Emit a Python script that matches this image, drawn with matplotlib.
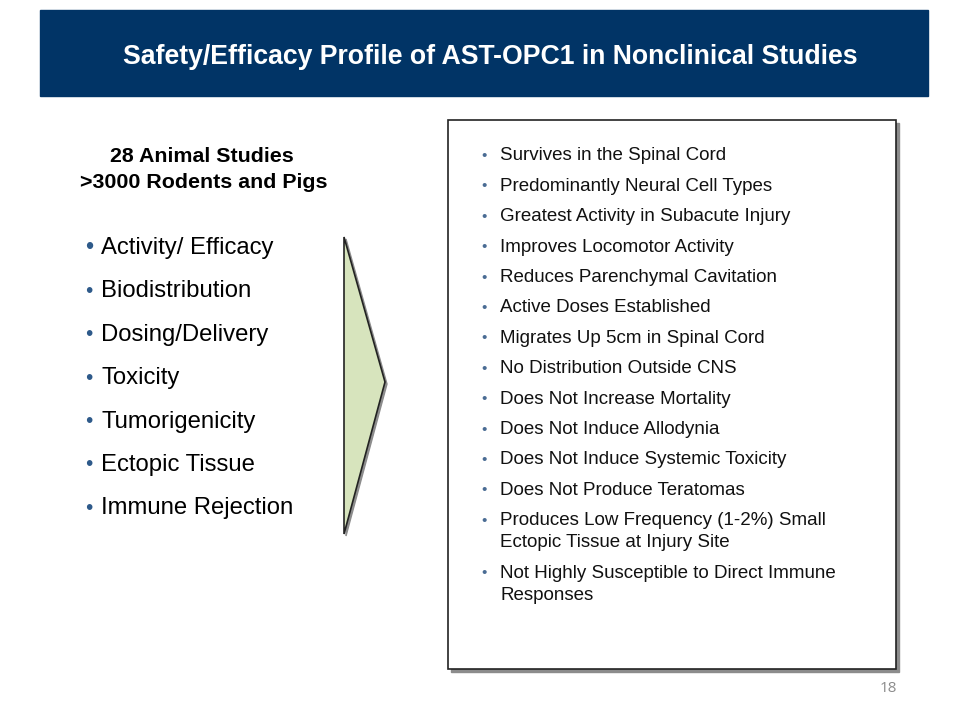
import matplotlib
matplotlib.use("Agg")
import matplotlib.pyplot as plt
from matplotlib import font_manager
from matplotlib.patches import Rectangle, Polygon

# pick the regular Liberation Sans files (not the Narrow variant)
def _font(name):
    for f in font_manager.findSystemFonts():
        if f.endswith(name):
            return font_manager.FontProperties(fname=f)
    return font_manager.FontProperties(family="DejaVu Sans")

REG = _font("LiberationSans-Regular.ttf")
BOLD = _font("LiberationSans-Bold.ttf")

# ---------------------------------------------------------------------------
TITLE = "Safety/Efficacy Profile of AST-OPC1 in Nonclinical Studies"
LEFT_HEAD = ["28 Animal Studies", ">3000 Rodents and Pigs"]
LEFT_ITEMS = ["Activity/ Efficacy", "Biodistribution", "Dosing/Delivery",
              "Toxicity", "Tumorigenicity", "Ectopic Tissue", "Immune Rejection"]
RIGHT_ITEMS = [
    "Survives in the Spinal Cord",
    "Predominantly Neural Cell Types",
    "Greatest Activity in Subacute Injury",
    "Improves Locomotor Activity",
    "Reduces Parenchymal Cavitation",
    "Active Doses Established",
    "Migrates Up 5cm in Spinal Cord",
    "No Distribution Outside CNS",
    "Does Not Increase Mortality",
    "Does Not Induce Allodynia",
    "Does Not Induce Systemic Toxicity",
    "Does Not Produce Teratomas",
    "Produces Low Frequency (1-2%) Small\nEctopic Tissue at Injury Site",
    "Not Highly Susceptible to Direct Immune\nResponses",
]
PAGE = "18"
# ---------------------------------------------------------------------------

NAVY = "#013466"
BULLET = "#2e5a8a"

fig = plt.figure(figsize=(9.6, 7.2), dpi=100)
ax = fig.add_axes([0, 0, 1, 1])
ax.set_xlim(0, 960)
ax.set_ylim(720, 0)
ax.axis("off")

# header band
ax.add_patch(Rectangle((40, 10), 888, 86, color=NAVY, zorder=1))
ax.text(490, 57, TITLE, color="white", fontproperties=BOLD, fontsize=19.2,
        ha="center", va="center", zorder=2)

# left heading
ax.text(202, 157, LEFT_HEAD[0], fontproperties=BOLD, fontsize=15.4,
        ha="center", va="center")
ax.text(204, 183, LEFT_HEAD[1], fontproperties=BOLD, fontsize=15.4,
        ha="center", va="center")

# left bullets
y0, dy = 248, 43.4
for i, item in enumerate(LEFT_ITEMS):
    y = y0 + i * dy
    ax.text(85, y, "•", color=BULLET, fontproperties=REG,
            fontsize=17 if i == 0 else 15, ha="left", va="center")
    ax.text(101, y, item, fontproperties=REG, fontsize=17.2,
            ha="left", va="center")

# arrow (with shadow)
arrow = [(344, 237), (385, 382), (344, 534)]
ax.add_patch(Polygon([(x + 2, y + 2) for x, y in arrow], closed=True,
                     color="#8c8c8c", zorder=1))
ax.add_patch(Polygon(arrow, closed=True, facecolor="#d7e4bd",
                     edgecolor="#222222", lw=1.2, zorder=2))

# right box (with shadow)
ax.add_patch(Rectangle((451, 123), 448, 549, color="#8c8c8c", zorder=1))
ax.add_patch(Rectangle((448, 120), 448, 549, facecolor="white",
                       edgecolor="#222222", lw=1.2, zorder=2))

# right bullets
y = 156
line_h = 22.0
for item in RIGHT_ITEMS:
    ax.text(481, y, "•", color="#4a6c94", fontproperties=REG, fontsize=11,
            ha="left", va="center", zorder=3)
    for k, line in enumerate(item.split("\n")):
        ax.text(500, y + k * line_h, line, fontproperties=REG, fontsize=13.5,
                ha="left", va="center", color="#111111", zorder=3)
    y += 30.4 + item.count("\n") * line_h

ax.text(888, 688, PAGE, color="#8c8c8c", fontsize=11, ha="center",
        va="center", family=["Open Sans", "DejaVu Sans"])

fig.savefig("out.png", dpi=100)
